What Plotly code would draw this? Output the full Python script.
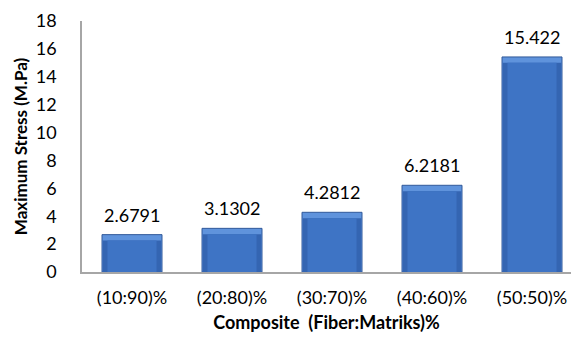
import plotly.graph_objects as go

# Composite ratios and measured maximum stress
categories = ["(10:90)%", "(20:80)%", "(30:70)%", "(40:60)%", "(50:50)%"]
stress = [2.6791, 3.1302, 4.2812, 6.2181, 15.422]
value_labels = ["2.6791", "3.1302", "4.2812", "6.2181", "15.422"]
y_ticks = [0, 2, 4, 6, 8, 10, 12, 14, 16, 18]

FONT = "Lato, 'Open Sans', Arial, sans-serif"
BEVEL = 0.42  # depth of the bevelled top, in data units

fig = go.Figure()

# full bar in the light bevel colour, with dark outline
fig.add_trace(go.Bar(
    x=categories, y=stress, width=0.6,
    marker=dict(color="#5F93DC", line=dict(color="#31599A", width=1)),
    hoverinfo="skip", showlegend=False,
))
# darker side bevels
fig.add_trace(go.Bar(
    x=categories, y=[v - BEVEL for v in stress], width=0.585,
    marker=dict(color="#3465B2", line=dict(width=0)),
    hoverinfo="skip", showlegend=False,
))
# main face
fig.add_trace(go.Bar(
    x=categories, y=[v - BEVEL for v in stress], width=0.49,
    marker=dict(color="#3E74C5", line=dict(width=0)),
    name="Maximum Stress", showlegend=False,
))

for c, v, t in zip(categories, stress, value_labels):
    fig.add_annotation(
        x=c, y=v, text=t, showarrow=False, yanchor="bottom", yshift=7,
        font=dict(family=FONT, size=18, color="#000000"),
    )

fig.update_layout(
    width=571, height=343,
    margin=dict(l=82, r=0, t=21, b=71),
    paper_bgcolor="white", plot_bgcolor="white",
    barmode="overlay",
    font=dict(family=FONT, size=18, color="#000000"),
)
fig.update_xaxes(
    range=[-0.5, 4.39], showline=True, linecolor="#A6A6A6", linewidth=1.5,
    ticks="outside", ticklen=9, tickcolor="rgba(0,0,0,0)",
    showgrid=False, zeroline=False,
    tickfont=dict(family=FONT, size=18),
    title=dict(text="<b>Composite&nbsp;&nbsp;(Fiber:Matriks)%</b>", standoff=9,
               font=dict(family=FONT, size=18)),
)
fig.update_yaxes(
    range=[0, 18], tickvals=y_ticks, showline=True, linecolor="#A6A6A6", linewidth=1.5,
    ticks="outside", ticklen=20, tickcolor="rgba(0,0,0,0)",
    showgrid=False, zeroline=False,
    tickfont=dict(family=FONT, size=18),
    title=dict(text="<b>Maximum Stress (M.Pa)</b>", standoff=4,
               font=dict(family=FONT, size=17)),
)

fig.write_html("out.html")
